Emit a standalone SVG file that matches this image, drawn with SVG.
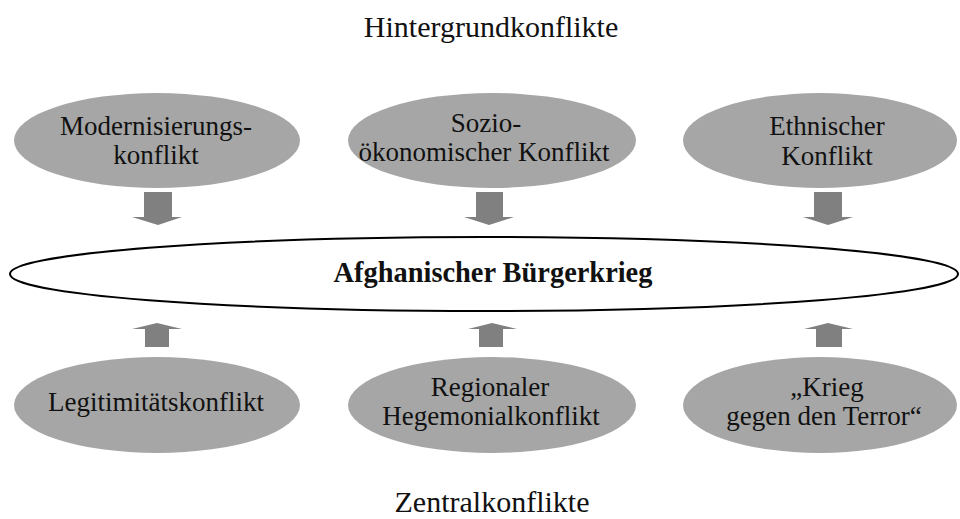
<svg xmlns="http://www.w3.org/2000/svg" width="960" height="519" viewBox="0 0 960 519">
<style>
text{font-family:"Liberation Serif","Times New Roman",serif;fill:#111;text-anchor:middle}
.t{font-size:27px}
.h{font-size:30px}
.m{font-size:28.4px;font-weight:bold}
.n{fill:#a6a6a6}
.a{fill:#808080}
</style>
<rect width="960" height="519" fill="#fff"/>
<text class="h" x="491" y="37">Hintergrundkonflikte</text>
<text class="h" x="492" y="512">Zentralkonflikte</text>
<g id="n1"><ellipse class="n" cx="157" cy="140.5" rx="143" ry="47.5"/><text class="t" x="156" y="135">Modernisierungs-</text><text class="t" x="156" y="164">konflikt</text></g>
<g id="n2"><ellipse class="n" cx="492" cy="140.5" rx="144" ry="47.5"/><text class="t" x="486" y="132">Sozio-</text><text class="t" x="484" y="161">ökonomischer Konflikt</text></g>
<g id="n3"><ellipse class="n" cx="820" cy="140.5" rx="137" ry="47.5"/><text class="t" x="827" y="135">Ethnischer</text><text class="t" x="827" y="165">Konflikt</text></g>
<g id="main"><ellipse cx="484" cy="274" rx="474" ry="37" fill="#fff" stroke="#000" stroke-width="2"/><text class="m" x="493" y="282">Afghanischer Bürgerkrieg</text></g>
<g id="n4"><ellipse class="n" cx="157" cy="405" rx="143" ry="48"/><text class="t" x="156" y="411">Legitimitätskonflikt</text></g>
<g id="n5"><ellipse class="n" cx="492" cy="405" rx="144" ry="48"/><text class="t" x="490" y="396">Regionaler</text><text class="t" x="491" y="425">Hegemonialkonflikt</text></g>
<g id="n6"><ellipse class="n" cx="820" cy="405" rx="137" ry="48"/><text class="t" x="827" y="396">„Krieg</text><text class="t" x="824" y="425">gegen den Terror“</text></g>
<g id="connectors">
<path class="a" d="M144 192H172V217H182L158 225L132 217H144Z"/>
<path class="a" d="M476 192H503V217H514L489 225L464 217H476Z"/>
<path class="a" d="M814 192H842V217H853L828 225L803 217H814Z"/>
<path class="a" d="M145 347H169V329H182L157 323L132 329H145Z"/>
<path class="a" d="M479 347H503V329H517L492 323L468 329H479Z"/>
<path class="a" d="M816 347H842V329H853L828 323L804 329H816Z"/>
</g>
</svg>
